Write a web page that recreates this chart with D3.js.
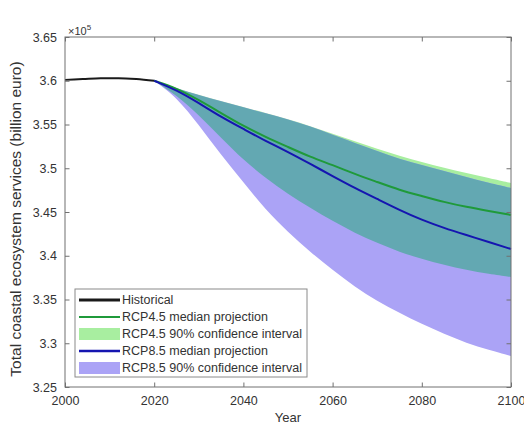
<!DOCTYPE html>
<html><head><meta charset="utf-8">
<script src="https://cdn.jsdelivr.net/npm/d3@7"></script>
<style>body{margin:0;background:#fff}svg{display:block}</style>
</head><body><svg id="c" width="524" height="427"></svg>
<script>
const histYears=[2000,2004,2008,2012,2016,2020];
const histValues=[3.601,3.602,3.603,3.603,3.602,3.600];
const projYears=[2020,2025,2030,2035,2040,2045,2050,2055,2060,2065,2070,2075,2080,2085,2090,2095,2100];
const rcp45Median=[3.600,3.5917,3.578,3.5631,3.5483,3.5357,3.5243,3.5129,3.5037,3.4934,3.4843,3.4751,3.4683,3.4614,3.4557,3.4511,3.4466];
const rcp45Upper=[3.600,3.5917,3.5837,3.5769,3.570,3.5631,3.5563,3.5483,3.5391,3.5311,3.522,3.514,3.5071,3.5003,3.4946,3.4889,3.4831];
const rcp45Lower=[3.600,3.5837,3.5609,3.5346,3.5094,3.4889,3.4706,3.4546,3.4397,3.426,3.4146,3.4043,3.3963,3.3894,3.3837,3.3791,3.3757];
const rcp85Median=[3.600,3.5894,3.5746,3.5586,3.5449,3.5311,3.5186,3.5049,3.4911,3.4774,3.4649,3.4523,3.4409,3.4317,3.4237,3.4157,3.4077];
const rcp85Upper=[3.600,3.5914,3.5834,3.5766,3.5697,3.5628,3.556,3.548,3.538,3.5289,3.5197,3.5106,3.5037,3.4969,3.490,3.4831,3.4774];
const rcp85Lower=[3.600,3.5814,3.5494,3.5151,3.4843,3.4523,3.4271,3.4043,3.3837,3.3643,3.3483,3.3346,3.322,3.3106,3.3003,3.2923,3.2854];
const xTicks=[2000,2020,2040,2060,2080,2100];
const yTicks=[3.25,3.3,3.35,3.4,3.45,3.5,3.55,3.6,3.65];
const legendLabels=["Historical","RCP4.5 median projection","RCP4.5 90% confidence interval","RCP8.5 median projection","RCP8.5 90% confidence interval"];
const xLabel="Year";
const yLabel="Total coastal ecosystem services (billion euro)";

const C={green:"#a8eea0",purple:"#aba3f6",teal:"#63a8b2",gLine:"#1f9a3a",bLine:"#1515b0",hist:"#1a1a1a",axis:"#707070",text:"#333"};
const L=65,R=511,T=37,B=387;
const svg=d3.select("#c");
const x=d3.scaleLinear().domain([2000,2100]).range([L,R]);
const y=d3.scaleLinear().domain([3.25,3.65]).range([B,T]);
const font="Liberation Sans, Arial, sans-serif";
const curve=d3.curveBasis;

const band=(lo,hi)=>d3.area().curve(curve).x((d,i)=>x(projYears[i])).y0((d,i)=>y(lo[i])).y1((d,i)=>y(hi[i]))(projYears);
const line=(yrs,vals,cv)=>d3.line().curve(cv||curve).x((d,i)=>x(yrs[i])).y((d,i)=>y(vals[i]))(yrs);

svg.append("clipPath").attr("id","pclip").append("path").attr("d",band(rcp85Lower,rcp85Upper));
svg.append("path").attr("d",band(rcp45Lower,rcp45Upper)).attr("fill",C.green);
svg.append("path").attr("d",band(rcp85Lower,rcp85Upper)).attr("fill",C.purple);
svg.append("path").attr("d",band(rcp45Lower,rcp45Upper)).attr("fill",C.teal).attr("clip-path","url(#pclip)");

svg.append("path").attr("d",line(projYears,rcp45Median)).attr("fill","none").attr("stroke",C.gLine).attr("stroke-width",2);
svg.append("path").attr("d",line(projYears,rcp85Median)).attr("fill","none").attr("stroke",C.bLine).attr("stroke-width",2);
svg.append("path").attr("d",line(histYears,histValues,d3.curveMonotoneX)).attr("fill","none").attr("stroke",C.hist).attr("stroke-width",2);

// axes box
svg.append("rect").attr("x",L).attr("y",T).attr("width",R-L).attr("height",B-T).attr("fill","none").attr("stroke",C.axis).attr("stroke-width",1);
const axB=d3.axisBottom(x).tickValues(xTicks).tickSize(-4.5).tickPadding(9).tickFormat(d3.format("d"));
const axL=d3.axisLeft(y).tickValues(yTicks).tickSize(-4.5).tickPadding(8).tickFormat(d=>String(+d.toFixed(2)));
const axT=d3.axisTop(x).tickValues(xTicks).tickSize(-4.5).tickFormat("");
const axR=d3.axisRight(y).tickValues(yTicks).tickSize(-4.5).tickFormat("");
const style=g=>{g.select(".domain").remove();g.selectAll("line").attr("stroke",C.axis);g.selectAll("text").attr("fill",C.text).style("font-family",font).style("font-size","12.5px");};
svg.append("g").attr("transform",`translate(0,${B})`).call(axB).call(style);
svg.append("g").attr("transform",`translate(${L},0)`).call(axL).call(style);
svg.append("g").attr("transform",`translate(0,${T})`).call(axT).call(style);
svg.append("g").attr("transform",`translate(${R},0)`).call(axR).call(style);

// exponent
const ex=svg.append("text").attr("x",68).attr("y",35).attr("fill",C.text).style("font-family",font).style("font-size","11px");
ex.append("tspan").text("×10");
ex.append("tspan").attr("dy",-5).style("font-size","8px").text("5");

svg.append("text").attr("x",(L+R)/2).attr("y",422).attr("text-anchor","middle").attr("fill",C.text).style("font-family",font).style("font-size","13px").text(xLabel);
svg.append("text").attr("transform",`translate(21,219) rotate(-90)`).attr("text-anchor","middle").attr("fill",C.text).style("font-family",font).style("font-size","15.5px").text(yLabel);

// legend
const lg=svg.append("g");
lg.append("rect").attr("x",75).attr("y",289).attr("width",232).attr("height",88).attr("fill","#fff").attr("stroke","#8a8a8a");
const kinds=[{t:"line",c:C.hist,w:3},{t:"line",c:C.gLine,w:2},{t:"rect",c:C.green},{t:"line",c:C.bLine,w:2.5},{t:"rect",c:C.purple}];
legendLabels.forEach((lab,i)=>{
  const cy=300+i*17;
  const k=kinds[i];
  if(k.t==="line") lg.append("line").attr("x1",79).attr("x2",120).attr("y1",cy).attr("y2",cy).attr("stroke",k.c).attr("stroke-width",k.w);
  else lg.append("rect").attr("x",79).attr("y",cy-6).attr("width",41).attr("height",12).attr("fill",k.c);
  lg.append("text").attr("x",122).attr("y",cy).attr("dy","0.35em").attr("fill",C.text).style("font-family",font).style("font-size","12.5px").text(lab);
});
</script></body></html>
